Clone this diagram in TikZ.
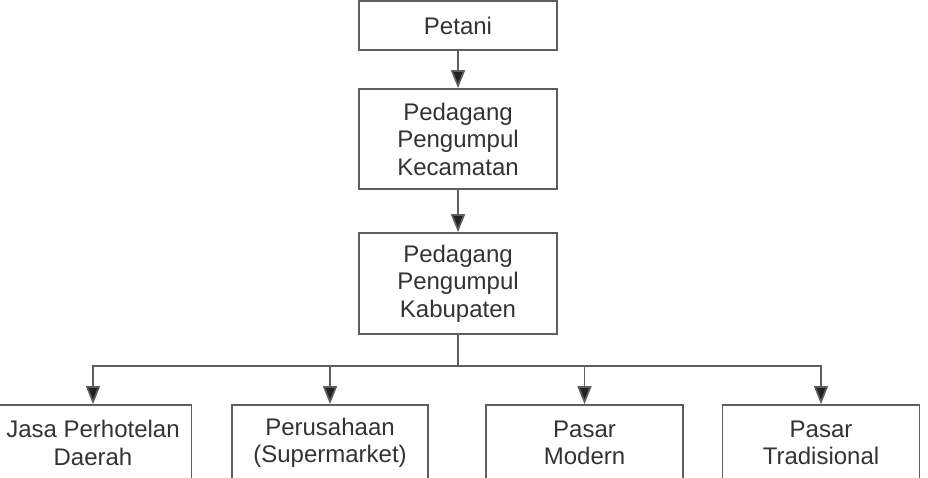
\documentclass[tikz,border=0pt]{standalone}
\usepackage{fontspec}
\setmainfont{Liberation Sans}
\usetikzlibrary{arrows.meta}
\definecolor{linec}{HTML}{5E5E5E}
\definecolor{tipc}{HTML}{222222}
\definecolor{txtc}{HTML}{333333}
\begin{document}
\begin{tikzpicture}[x=1pt,y=-1pt,
  box/.style={draw=linec,line width=1.7pt,inner sep=0pt,align=center,text=txtc,
    font=\fontsize{24}{27.5}\selectfont},
  conn/.style={draw=linec,line width=1.7pt},
  arr/.style={conn,-{Triangle[length=18pt,width=14pt,fill=tipc]}}]
\useasboundingbox (0,0) rectangle (928,478);
\begin{scope}
\clip (0,0) rectangle (928,478);
\node[box,minimum width=198pt,minimum height=49pt] (p) at (458,25.5) {Petani};
\node[box,minimum width=198pt,minimum height=100pt] (c) at (458,139) {Pedagang\\Pengumpul\\Kecamatan};
\node[box,minimum width=198pt,minimum height=101pt] (k) at (458,283.5) {Pedagang\\Pengumpul\\Kabupaten};
\node[box,minimum width=197pt,minimum height=76pt] (b1) at (93,443) {Jasa Perhotelan\\Daerah};
\node[box,minimum width=196pt,minimum height=76pt] (b2) at (330,443) {Perusahaan\\(Supermarket)};
\node[box,minimum width=197pt,minimum height=76pt] (b3) at (584.5,443) {Pasar\\Modern};
\node[box,minimum width=197pt,minimum height=76pt] (b4) at (821,443) {Pasar\\Tradisional};
\coordinate (bus) at (458,366);
\draw[arr] (p) -- (c);
\draw[arr] (c) -- (k);
\draw[conn] (k.south) -- (bus);
\draw[arr] (bus) -| (b1.north);
\draw[arr] (bus) -| (b2.north);
\draw[arr] (bus) -| (b3.north);
\draw[arr] (bus) -| (b4.north);
\end{scope}
\end{tikzpicture}
\end{document}
